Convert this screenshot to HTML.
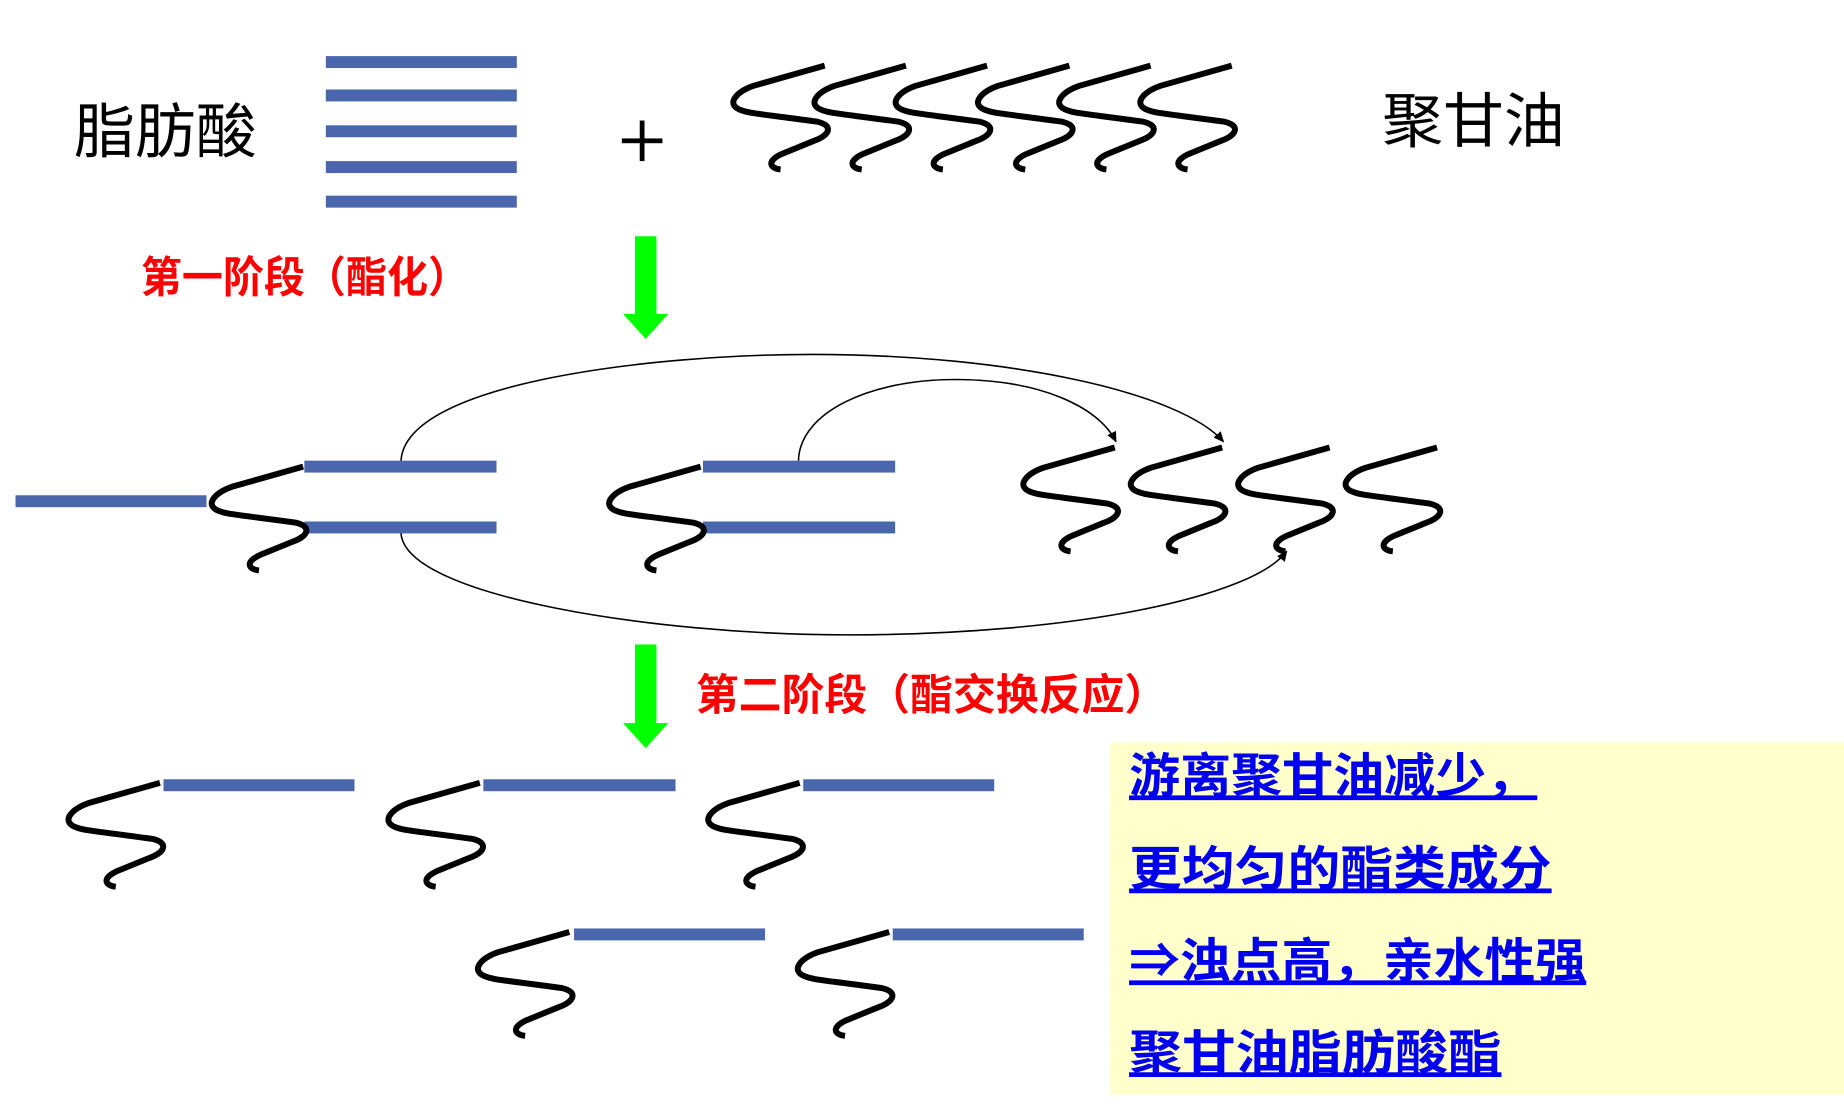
<!DOCTYPE html>
<html><head><meta charset="utf-8"><style>
html,body{margin:0;padding:0;background:#fff;}
svg{display:block;}
</style></head><body>
<svg width="1844" height="1117" viewBox="0 0 1545 936" preserveAspectRatio="none" xmlns="http://www.w3.org/2000/svg">
<defs>
<path id="sq" d="M79,0 L19,17 C5,22 -4,32 8,37 C15,40 22,40 73,47 C86,50 84,58 70,63 L43,74 C30,80 33,86 42,87" fill="none" stroke="#000" stroke-width="5"/>
<marker id="ar" markerWidth="10" markerHeight="10" refX="8" refY="5" orient="auto" markerUnits="userSpaceOnUse"><path d="M0,1 L9,5 L0,9 Z" fill="#000"/></marker>
</defs>
<rect x="0" y="0" width="1545" height="936" fill="#fff"/>
<rect x="930" y="622" width="615" height="295" fill="#ffffcc"/>

<g font-family="Liberation Sans, Noto Sans CJK SC, sans-serif">
<text x="62" y="128" font-size="50" textLength="153" lengthAdjust="spacingAndGlyphs">脂肪酸</text>
<text x="1158" y="119" font-size="50" textLength="153" lengthAdjust="spacingAndGlyphs">聚甘油</text>
<g font-family="Noto Sans CJK SC, sans-serif" font-weight="bold" fill="#ff0000">
<text x="118" y="245" font-size="36" textLength="275" lengthAdjust="spacingAndGlyphs">第一阶段（酯化）</text>
<text x="583" y="595" font-size="36" textLength="395" lengthAdjust="spacingAndGlyphs">第二阶段（酯交换反应）</text>
</g>
<g fill="#0000ee" font-size="40" font-weight="bold" text-decoration="underline">
<text x="946" y="664" textLength="342" lengthAdjust="spacingAndGlyphs">游离聚甘油减少，</text>
<text x="946" y="742" textLength="354" lengthAdjust="spacingAndGlyphs">更均匀的酯类成分</text>
<text x="946" y="819" textLength="383" lengthAdjust="spacingAndGlyphs">⇒浊点高，亲水性强</text>
<text x="946" y="896" textLength="312" lengthAdjust="spacingAndGlyphs">聚甘油脂肪酸酯</text>
</g>
</g>
<rect x="521" y="116" width="34" height="4" fill="#000"/>
<rect x="536" y="101" width="4" height="34" fill="#000"/>
<rect x="946" y="667" width="342" height="2" fill="#0000ee"/>
<rect x="946" y="745" width="354" height="2" fill="#0000ee"/>
<rect x="990" y="822" width="339" height="2" fill="#0000ee"/>
<rect x="946" y="899" width="312" height="2" fill="#0000ee"/>

<g fill="#4a66ac">
<rect x="273" y="47" width="160" height="10"/>
<rect x="273" y="75" width="160" height="10"/>
<rect x="273" y="105" width="160" height="10"/>
<rect x="273" y="135" width="160" height="10"/>
<rect x="273" y="164" width="160" height="10"/>
<rect x="13" y="415" width="160" height="10"/>
<rect x="255" y="386" width="161" height="10"/>
<rect x="255" y="437" width="161" height="10"/>
<rect x="589" y="386" width="161" height="10"/>
<rect x="589" y="437" width="161" height="10"/>
<rect x="137" y="653" width="160" height="10"/>
<rect x="405" y="653" width="161" height="10"/>
<rect x="673" y="653" width="160" height="10"/>
<rect x="481" y="778" width="160" height="10"/>
<rect x="748" y="778" width="160" height="10"/>
</g>

<use href="#sq" x="612" y="55"/>
<use href="#sq" x="680" y="55"/>
<use href="#sq" x="748" y="55"/>
<use href="#sq" x="817" y="55"/>
<use href="#sq" x="885" y="55"/>
<use href="#sq" x="953" y="55"/>

<use href="#sq" x="175" y="391"/>
<use href="#sq" x="508" y="391"/>
<use href="#sq" x="855" y="375"/>
<use href="#sq" x="945" y="375"/>
<use href="#sq" x="1035" y="375"/>
<use href="#sq" x="1125" y="375"/>

<use href="#sq" x="55" y="656"/>
<use href="#sq" x="323" y="656"/>
<use href="#sq" x="591" y="656"/>
<use href="#sq" x="398" y="781"/>
<use href="#sq" x="666" y="781"/>

<g fill="none" stroke="#000" stroke-width="1.3">
<path d="M336,386 C340,320 550,297 680,297 C850,297 990,330 1025,370" marker-end="url(#ar)"/>
<path d="M669,386 C670,345 730,318 800,318 C870,318 920,340 935,370" marker-end="url(#ar)"/>
<path d="M336,447 C340,500 550,532 710,532 C900,532 1050,500 1078,462" marker-end="url(#ar)"/>
</g>

<g fill="#00ff00">
<rect x="532" y="198" width="18" height="66"/>
<path d="M522,263 L560,263 L541,284 Z"/>
<rect x="532" y="540" width="18" height="67"/>
<path d="M522,606 L560,606 L541,627 Z"/>
</g>
</svg>
</body></html>
